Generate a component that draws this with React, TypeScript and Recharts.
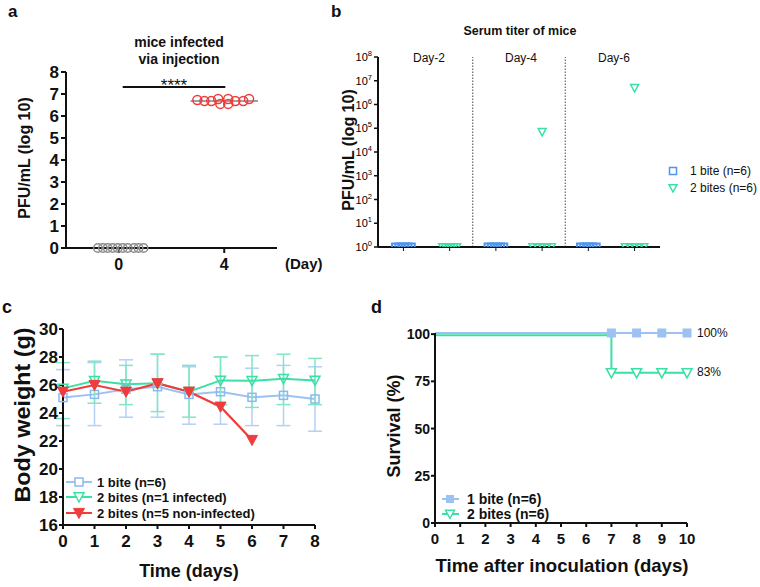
import React from 'react'
import {
  ScatterChart, Scatter, LineChart, Line, XAxis, YAxis, ErrorBar, ReferenceLine,
} from 'recharts'

const FONT = '"Liberation Sans", Arial, sans-serif'
const INK = '#111111'
const GREY = '#8c8c8c'
const RED = '#f03c3c'
const BLUE_B = '#4f95ec'
const GREEN = '#3be0a4'
const BLUE_L = '#9cc2f4'
const BLUE_ERR = '#b3d0f6'
const GREEN_ERR = '#7fe8c2'

// a: titer in mice infected via injection (log10 PFU/mL)
const dayZeroX = [-0.79, -0.6, -0.42, -0.23, -0.04, 0.15, 0.34, 0.57, 0.75, 0.94]
const dayZeroTiter = [0, 0, 0, 0, 0, 0, 0, 0, 0, 0]
const dayFourX = [2.98, 3.25, 3.51, 3.77, 3.85, 4.15, 4.15, 4.42, 4.72, 4.94]
const dayFourTiter = [6.73, 6.68, 6.68, 6.77, 6.55, 6.77, 6.55, 6.68, 6.68, 6.77]
const dayFourMean = 6.68
const titerTicks = [0, 1, 2, 3, 4, 5, 6, 7, 8]

// b: serum titer by bites
const serumDays = ['Day-2', 'Day-4', 'Day-6']
const oneBiteX = [-0.17, -0.1, -0.035, 0.035, 0.1, 0.17, 1.83, 1.9, 1.965, 2.035, 2.1, 2.17, 3.83, 3.9, 3.965, 4.035, 4.1, 4.17]
const oneBiteTiter = [1, 1, 1, 1, 1, 1, 1, 1, 1, 1, 1, 1, 1, 1, 1, 1, 1, 1]
const twoBitesX = [0.85, 0.91, 0.97, 1.03, 1.09, 1.15, 2.8, 2.9, 3.0, 3.1, 3.2, 3.0, 4.8, 4.9, 5.0, 5.1, 5.2, 5.0]
const twoBitesTiter = [1, 1, 1, 1, 1, 1, 1, 1, 1, 1, 1, 70000, 1, 1, 1, 1, 1, 5000000]
const logTicks = [1, 10, 100, 1e3, 1e4, 1e5, 1e6, 1e7, 1e8]

// c: body weight
const weightDays = [0, 1, 2, 3, 4, 5, 6, 7, 8]
const oneBiteWeight = [25.1, 25.33, 25.7, 25.88, 25.33, 25.52, 25.12, 25.26, 25.0]
const oneBiteLow = [23.1, 23.1, 23.7, 23.7, 23.2, 23.2, 23.1, 23.1, 22.7]
const oneBiteHigh = [27.1, 27.6, 27.8, 28.2, 27.3, 28.0, 27.2, 27.4, 27.3]
const infectedWeight = [25.76, 26.3, 26.05, 26.12, 25.52, 26.33, 26.3, 26.45, 26.33]
const infectedLow = [23.6, 24.7, 24.6, 24.1, 23.7, 24.6, 24.4, 24.6, 24.6]
const infectedHigh = [27.6, 27.7, 27.4, 28.2, 27.4, 28.0, 28.1, 28.2, 27.9]
const nonInfectedWeight = [25.52, 26.0, 25.52, 26.12, 25.52, 24.45, 22.07]
const weightTicks = [16, 18, 20, 22, 24, 26, 28, 30]

// d: survival
const survivalDays = [0, 7, 8, 9, 10]
const oneBiteSurvival = [100.6, 100.6, 100.6, 100.6, 100.6]
const twoBitesSurvival = [99.4, 79.5, 79.5, 79.5, 79.5]
const survivalTicks = [0, 25, 50, 75, 100]
const survivalDayTicks = [0, 1, 2, 3, 4, 5, 6, 7, 8, 9, 10]

const pts = (xs: number[], ys: number[]) => xs.map((x, i) => ({ x, y: ys[i] }))

const weightRows = weightDays.map((d, i) => ({
  day: d,
  one: oneBiteWeight[i],
  oneErr: [oneBiteWeight[i] - oneBiteLow[i], oneBiteHigh[i] - oneBiteWeight[i]],
  inf: infectedWeight[i],
  infErr: [infectedWeight[i] - infectedLow[i], infectedHigh[i] - infectedWeight[i]],
  non: nonInfectedWeight[i],
}))

const survivalRows = survivalDays.map((d, i) => ({ day: d, one: oneBiteSurvival[i], two: twoBitesSurvival[i] }))

const axisLine = { stroke: INK, strokeWidth: 2 }
const tickFont = (size: number, bold = true) => ({ fontSize: size, fontFamily: FONT, fontWeight: bold ? 700 : 400, fill: INK })

const triPath = (cx: number, cy: number, s: number) =>
  `M${cx - s / 2},${cy - s * 0.42}L${cx + s / 2},${cy - s * 0.42}L${cx},${cy + s * 0.5}Z`

const OpenCircle = (color: string, r: number) => (p: any) =>
  <circle cx={p.cx} cy={p.cy} r={r} fill="none" stroke={color} strokeWidth={1.5} />

const OpenSquare = (color: string, s: number, w = 1.5) => (p: any) =>
  <rect x={p.cx - s / 2} y={p.cy - s / 2} width={s} height={s} fill="none" stroke={color} strokeWidth={w} />

const OpenTri = (color: string, s: number) => (p: any) =>
  <path d={triPath(p.cx, p.cy, s)} fill="none" stroke={color} strokeWidth={1.5} />

const PowTick = (p: any) => (
  <text x={p.x} y={p.y} dy={4} textAnchor="end" fontFamily={FONT} fontSize={11} fill="#000" stroke="none">
    <tspan>10</tspan>
    <tspan dy={-5} fontSize={7.5}>{Math.round(Math.log10(p.payload.value))}</tspan>
  </text>
)

const NoTick = () => <g />

const abs = (left: number, top: number): React.CSSProperties => ({ position: 'absolute', left, top })

export default function App() {
  const txt = { fontFamily: FONT, fill: INK }
  return (
    <div style={{ position: 'absolute', left: 0, top: 0, width: 760, height: 587, background: '#fff', overflow: 'hidden' }}>
      {/* a */}
      <div style={abs(0, 0)}>
        <ScatterChart width={330} height={290} margin={{ top: 72, right: 53, bottom: 12, left: 36 }}>
          <XAxis type="number" dataKey="x" domain={[-2, 6]} ticks={[0, 4]} height={30}
            axisLine={axisLine} tickLine={axisLine} tickSize={5} tickMargin={6} tick={tickFont(16)} />
          <YAxis type="number" dataKey="y" domain={[0, 8]} ticks={titerTicks} width={30} interval={0}
            axisLine={axisLine} tickLine={axisLine} tickSize={5} tickMargin={2} tick={tickFont(17)} />
          <Scatter data={pts(dayZeroX, dayZeroTiter)} shape={OpenCircle(GREY, 4.3)} isAnimationActive={false} />
          <Scatter data={pts(dayFourX, dayFourTiter)} shape={OpenCircle(RED, 4.5)} isAnimationActive={false} />
          <ReferenceLine segment={[{ x: 2.72, y: dayFourMean }, { x: 5.28, y: dayFourMean }]} stroke="#a0a0a0" strokeWidth={2} />
          <ReferenceLine segment={[{ x: 0.15, y: 7.32 }, { x: 4.04, y: 7.32 }]} stroke={INK} strokeWidth={2} />
        </ScatterChart>
      </div>

      {/* b */}
      <div style={abs(330, 0)}>
        <ScatterChart width={430} height={290} margin={{ top: 57, right: 100, bottom: 23, left: 8 }}>
          <XAxis type="number" dataKey="x" domain={[-0.55, 5.55]} ticks={[0, 1, 2, 3, 4, 5]} height={20}
            axisLine={axisLine} tickLine={{ stroke: INK, strokeWidth: 1 }} tickSize={4} tick={NoTick} />
          <YAxis type="number" dataKey="y" scale="log" domain={[1, 1e8]} ticks={logTicks} allowDataOverflow width={40} interval={0}
            axisLine={axisLine} tickLine={{ stroke: INK, strokeWidth: 1.5 }} tickSize={4} tickMargin={2} tick={PowTick} />
          <ReferenceLine x={1.5} stroke="#444" strokeDasharray="1.5 1.5" strokeWidth={1} />
          <ReferenceLine x={3.5} stroke="#444" strokeDasharray="1.5 1.5" strokeWidth={1} />
          <Scatter data={pts(oneBiteX, oneBiteTiter)} shape={OpenSquare(BLUE_B, 7, 2)} isAnimationActive={false} />
          <Scatter data={pts(twoBitesX, twoBitesTiter)} shape={OpenTri(GREEN, 8)} isAnimationActive={false} />
        </ScatterChart>
      </div>

      {/* c */}
      <div style={abs(0, 290)}>
        <LineChart width={380} height={297} data={weightRows} margin={{ top: 39, right: 65, bottom: 32, left: 23 }}>
          <XAxis type="number" dataKey="day" domain={[0, 8]} ticks={weightDays} height={30} interval={0}
            axisLine={axisLine} tickLine={axisLine} tickSize={4} tickMargin={6} tick={tickFont(17)} />
          <YAxis type="number" domain={[16, 30]} ticks={weightTicks} width={40} interval={0}
            axisLine={axisLine} tickLine={axisLine} tickSize={4} tickMargin={1} tick={tickFont(17)} />
          <Line dataKey="one" stroke={BLUE_L} strokeWidth={2} dot={OpenSquare('#8cb8f0', 8)} isAnimationActive={false}>
            <ErrorBar dataKey="oneErr" direction="y" width={7} stroke={BLUE_ERR} strokeWidth={1.5} />
          </Line>
          <Line dataKey="inf" stroke={GREEN} strokeWidth={2} dot={OpenTri(GREEN, 10)} isAnimationActive={false}>
            <ErrorBar dataKey="infErr" direction="y" width={7} stroke={GREEN_ERR} strokeWidth={1.5} />
          </Line>
          <Line dataKey="non" stroke={RED} strokeWidth={2.2} connectNulls={false} isAnimationActive={false}
            dot={(p: any) => p.value == null ? <g key={p.index} /> :
              <path key={p.index} d={triPath(p.cx, p.cy, 11)} fill={RED} stroke={RED} strokeWidth={1} />} />
        </LineChart>
      </div>

      {/* d */}
      <div style={abs(380, 290)}>
        <LineChart width={380} height={297} data={survivalRows} margin={{ top: 43, right: 73, bottom: 34, left: 15 }}>
          <XAxis type="number" dataKey="day" domain={[0, 10]} ticks={survivalDayTicks} height={30} interval={0}
            axisLine={axisLine} tickLine={axisLine} tickSize={4} tickMargin={6} tick={tickFont(15)} />
          <YAxis type="number" domain={[0, 100]} ticks={survivalTicks} width={40} interval={0}
            axisLine={axisLine} tickLine={axisLine} tickSize={4} tickMargin={1} tick={tickFont(14)} />
          <Line type="stepAfter" dataKey="two" stroke={GREEN} strokeWidth={2} isAnimationActive={false}
            dot={(p: any) => p.index === 0 ? <g key={p.index} /> :
              <path key={p.index} d={triPath(p.cx, p.cy, 10)} fill="#fff" stroke={GREEN} strokeWidth={1.5} />} />
          <Line type="stepAfter" dataKey="one" stroke={BLUE_L} strokeWidth={2} isAnimationActive={false}
            dot={(p: any) => p.index === 0 ? <g key={p.index} /> :
              <rect key={p.index} x={p.cx - 4.5} y={p.cy - 4.5} width={9} height={9} fill={BLUE_L} />} />
        </LineChart>
      </div>

      {/* text, legends */}
      <svg width={760} height={587} style={{ position: 'absolute', left: 0, top: 0, pointerEvents: 'none' }}>
        <g {...txt} fontWeight={700}>
          <text x={8} y={17} fontSize={17}>a</text>
          <text x={331} y={17} fontSize={17}>b</text>
          <text x={2} y={313} fontSize={18}>c</text>
          <text x={371} y={313} fontSize={18}>d</text>
        </g>

        {/* a */}
        <g {...txt} fontWeight={700} textAnchor="middle">
          <text x={179} y={47} fontSize={14}>mice infected</text>
          <text x={179} y={64} fontSize={14}>via injection</text>
          <text transform="translate(30,158) rotate(-90)" fontSize={16}>PFU/mL (log 10)</text>
        </g>
        <text x={174} y={91} {...txt} fontSize={17} textAnchor="middle">****</text>
        <text x={285} y={269} {...txt} fontSize={15} fontWeight={700}>(Day)</text>

        {/* b */}
        <text x={520} y={35} {...txt} fontSize={13} fontWeight={700} textAnchor="middle" textLength={113} lengthAdjust="spacingAndGlyphs">Serum titer of mice</text>
        {serumDays.map((d, i) => (
          <text key={d} x={[429, 521, 614][i]} y={62} {...txt} fontSize={12} textAnchor="middle">{d}</text>
        ))}
        <text transform="translate(354,150) rotate(-90)" {...txt} fontSize={16} fontWeight={700} textAnchor="middle">PFU/mL (log 10)</text>
        <rect x={669.5} y={167.5} width={7} height={7} fill="none" stroke={BLUE_B} strokeWidth={1.5} />
        <text x={690} y={175} {...txt} fontSize={12}>1 bite (n=6)</text>
        <path d={triPath(673, 188, 8)} fill="none" stroke={GREEN} strokeWidth={1.5} />
        <text x={690} y={192} {...txt} fontSize={12}>2 bites (n=6)</text>

        {/* c */}
        <text transform="translate(30,415) rotate(-90)" {...txt} fontSize={22} fontWeight={700} textAnchor="middle" textLength={175} lengthAdjust="spacingAndGlyphs">Body weight (g)</text>
        <text x={189} y={577} {...txt} fontSize={18} fontWeight={700} textAnchor="middle">Time (days)</text>
        <g {...txt} fontSize={13} fontWeight={700}>
          <line x1={66} x2={92} y1={482} y2={482} stroke={BLUE_L} strokeWidth={2} />
          <rect x={75} y={478} width={8} height={8} fill="#fff" stroke="#8cb8f0" strokeWidth={1.5} />
          <text x={97} y={487}>1 bite (n=6)</text>
          <line x1={66} x2={92} y1={497} y2={497} stroke={GREEN} strokeWidth={2} />
          <path d={triPath(79, 497, 10)} fill="#fff" stroke={GREEN} strokeWidth={1.5} />
          <text x={97} y={502}>2 bites (n=1 infected)</text>
          <line x1={66} x2={92} y1={513} y2={513} stroke={RED} strokeWidth={2} />
          <path d={triPath(79, 513, 11)} fill={RED} stroke={RED} strokeWidth={1} />
          <text x={97} y={518}>2 bites (n=5 non-infected)</text>
        </g>

        {/* d */}
        <text transform="translate(400,426) rotate(-90)" {...txt} fontSize={18} fontWeight={700} textAnchor="middle">Survival (%)</text>
        <text x={562} y={572} {...txt} fontSize={19} fontWeight={700} textAnchor="middle" textLength={253} lengthAdjust="spacingAndGlyphs">Time after inoculation (days)</text>
        <text x={697} y={337} {...txt} fontSize={12}>100%</text>
        <text x={697} y={376} {...txt} fontSize={12}>83%</text>
        <g {...txt} fontSize={14} fontWeight={700}>
          <line x1={442} x2={459} y1={499} y2={499} stroke={BLUE_L} strokeWidth={2} />
          <rect x={446} y={495} width={8} height={8} fill={BLUE_L} />
          <text x={467} y={504}>1 bite (n=6)</text>
          <line x1={442} x2={459} y1={514} y2={514} stroke={GREEN} strokeWidth={2} />
          <path d={triPath(450, 514, 9)} fill="#fff" stroke={GREEN} strokeWidth={1.5} />
          <text x={467} y={519}>2 bites (n=6)</text>
        </g>
      </svg>
    </div>
  )
}
